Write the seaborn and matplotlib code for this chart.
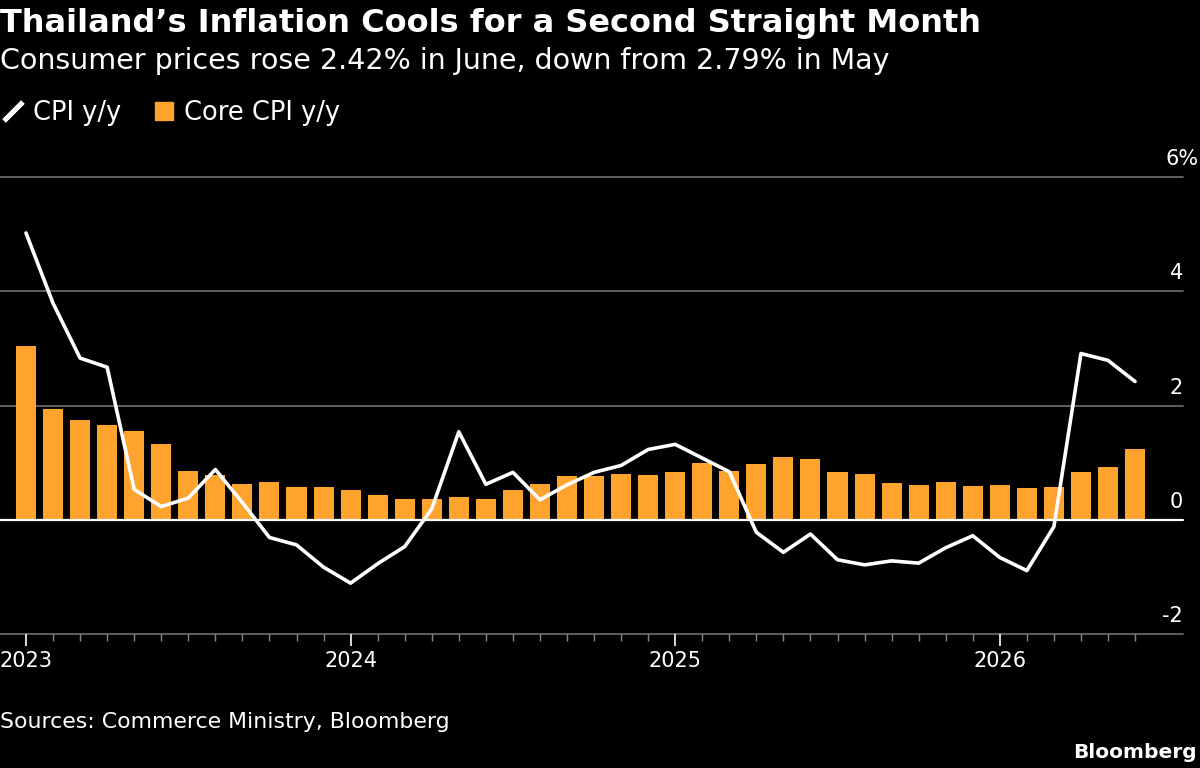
import pandas as pd
import numpy as np
import matplotlib
matplotlib.use("Agg")
import matplotlib.pyplot as plt
import matplotlib.transforms as mtransforms
from matplotlib.lines import Line2D
import seaborn as sns

# monthly data, Jan 2023 - Jun 2026
months = pd.date_range("2023-01-01", "2026-06-01", freq="MS")
cpi = [5.02, 3.79, 2.83, 2.67, 0.53, 0.23, 0.38, 0.88, 0.30, -0.31, -0.44, -0.83,
       -1.11, -0.77, -0.47, 0.19, 1.54, 0.62, 0.83, 0.35, 0.61, 0.83, 0.95, 1.23,
       1.32, 1.08, 0.84, -0.22, -0.57, -0.25, -0.70, -0.79, -0.72, -0.76, -0.49, -0.28,
       -0.66, -0.89, -0.12, 2.91, 2.79, 2.42]
core = [3.04, 1.93, 1.75, 1.66, 1.55, 1.32, 0.86, 0.79, 0.63, 0.66, 0.58, 0.58,
        0.52, 0.43, 0.37, 0.37, 0.39, 0.36, 0.52, 0.62, 0.77, 0.77, 0.80, 0.79,
        0.83, 0.99, 0.86, 0.98, 1.09, 1.06, 0.84, 0.80, 0.65, 0.61, 0.66, 0.59,
        0.60, 0.56, 0.57, 0.83, 0.92, 1.23]
year_labels = ["2023", "2024", "2025", "2026"]
y_ticks = [-2, 0, 2, 4, 6]
y_labels = ["-2", "0", "2", "4", "6%"]

df = pd.DataFrame({"month": months, "cpi": cpi, "core": core})
df["pos"] = np.arange(len(df))

orange = "#FDA32E"
grid_gray = "#666666"

sns.set_theme(style="dark", rc={"axes.facecolor": "black", "figure.facecolor": "black",
                                "text.color": "white", "xtick.color": "white"})
plt.rcParams["font.family"] = ["DejaVu Sans"]

fig = plt.figure(figsize=(12, 7.68), dpi=100)
ax = fig.add_axes([0, 134 / 768, 1183 / 1200, 457 / 768])

# gridlines first so bars sit on top, zero line drawn over the bars
for v in y_ticks:
    ax.axhline(v, color="white" if v == 0 else grid_gray, lw=1.6 if v == 0 else 1.3,
               zorder=2.5 if v == 0 else 0.5, clip_on=False)

sns.barplot(data=df, x="pos", y="core", color=orange, width=0.74, saturation=1,
            edgecolor="none", linewidth=0, ax=ax, zorder=2)
sns.lineplot(data=df, x="pos", y="cpi", color="white", lw=2.6, ax=ax, zorder=3)

ax.set_xlim(-26 / 27.05, (1183 - 26) / 27.05)
ax.set_ylim(-2, 6)
ax.set_xlabel("")
ax.set_ylabel("")
for s in ax.spines.values():
    s.set_visible(False)
ax.grid(False)

# year ticks + monthly minor ticks
ax.set_xticks([0, 12, 24, 36], year_labels)
ax.set_xticks(df["pos"], minor=True)
ax.tick_params(axis="x", which="major", length=8.5, width=1.2, color="white",
               labelsize=15, labelcolor="white", pad=4, bottom=True)
ax.tick_params(axis="x", which="minor", length=5, width=1.0, color="#8a8a8a", bottom=True)
ax.set_yticks([])

# y labels sit above the gridlines, right aligned (the % hangs past the grid end)
off = mtransforms.ScaledTranslation(0, 12 / 100, fig.dpi_scale_trans)
trans = mtransforms.blended_transform_factory(ax.transAxes, ax.transData) + off
for v, lab in zip(y_ticks, y_labels):
    xr = 1.0 if "%" not in lab else 1199 / 1183
    ax.text(xr, v, lab, transform=trans, ha="right", va="baseline",
            fontsize=15, color="white", clip_on=False)

# titles
fig.text(0.0, 1 - 32 / 768, "Thailand\u2019s Inflation Cools for a Second Straight Month",
         fontsize=23, fontweight="bold", color="white", ha="left", va="baseline")
fig.text(0.0, 1 - 69 / 768, "Consumer prices rose 2.42% in June, down from 2.79% in May",
         fontsize=20.5, color="white", ha="left", va="baseline")

# legend
handles = [Line2D([], [], color="white", marker=(2, 2, -45), markersize=19,
                  markeredgewidth=3.5, linestyle="none"),
           Line2D([], [], color=orange, marker="s", markersize=13, linestyle="none")]
fig.legend(handles, ["CPI y/y", "Core CPI y/y"], loc="center left",
           bbox_to_anchor=(1 / 1200, 1 - 113 / 768), ncol=2, frameon=False, fontsize=18.5,
           handlelength=0.9, handletextpad=0.35, columnspacing=1.2, borderpad=0,
           borderaxespad=0, labelcolor="white")

fig.text(0.0, 1 - 728 / 768, "Sources: Commerce Ministry, Bloomberg",
         fontsize=15.8, color="white", ha="left", va="baseline")
fig.text(1 - 3 / 1200, 1 - 758 / 768, "Bloomberg", fontsize=14.5, fontweight="bold",
         color="white", ha="right", va="baseline")

fig.savefig("out.png", dpi=100, facecolor="black")
